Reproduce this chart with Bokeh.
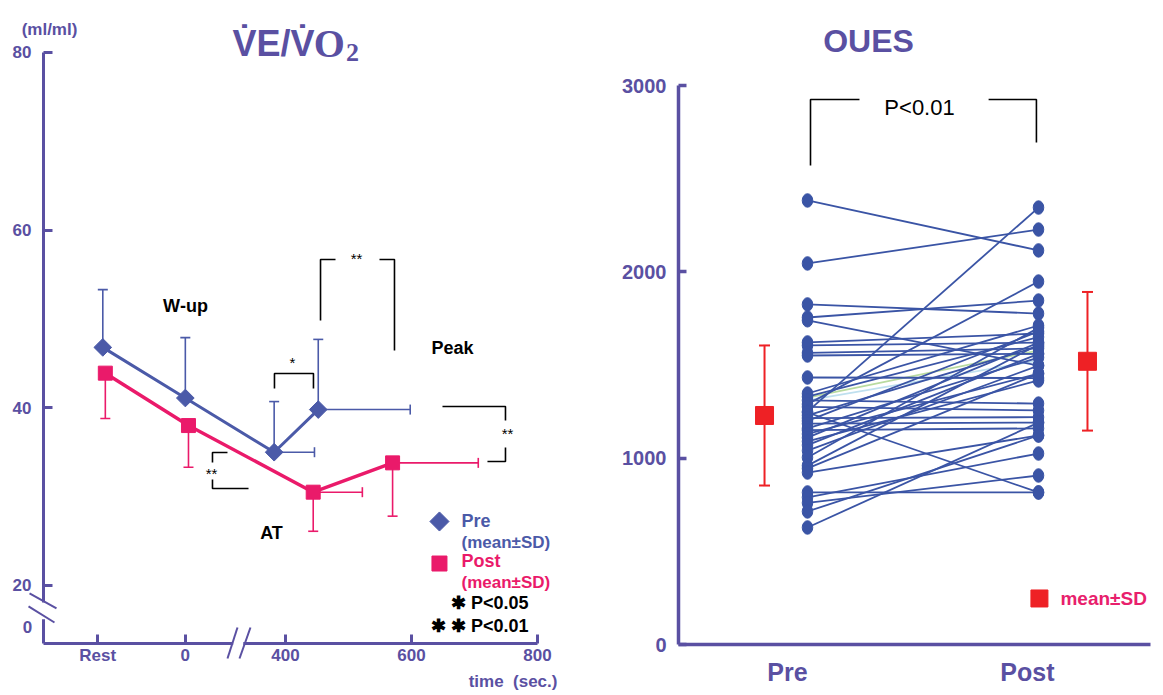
import math
from bokeh.plotting import figure
from bokeh.models import Range1d, FixedTicker, Label
from bokeh.layouts import row
from bokeh.core.properties import value
from bokeh.embed import file_html
from bokeh.resources import INLINE

# ---------------- Left panel data: VE/VO2 ----------------
stage_names = ["Rest", "0", "AT", "Peak"]
pre_time = [110, 241, 382, 452]          # position on time axis (Rest / 0 / AT / Peak)
post_time = [114, 246, 444, 570]
pre_time_sd = [0, 0, 64, 146]
post_time_sd = [0, 0, 78, 136]
pre_mean = [46.8, 41.1, 35.0, 39.8]
pre_sd = [6.5, 6.8, 5.7, 7.9]
post_mean = [43.9, 38.0, 30.5, 33.8]
post_sd = [5.1, 4.7, 4.4, 6.0]
left_x_ticks = [102, 241, 400, 600, 800]
left_x_labels = ["Rest", "0", "400", "600", "800"]
left_y_ticks = [20, 40, 60, 80]

# ---------------- Right panel data: OUES ----------------
oues_pre = [2383, 2045, 1825, 1755, 1740, 1621, 1605, 1565, 1551, 1433, 1347, 1330, 1310,
            1290, 1275, 1250, 1245, 1230, 1215, 1200, 1185, 1160, 1150, 1130, 1110, 1090,
            1070, 1040, 1004, 960, 945, 923, 816, 790, 760, 714, 628]
oues_post = [2115, 2227, 1776, 1846, 1497, 1669, 1620, 1589, 1560, 1430, 1712, 1650, 1293,
             1948, 1256, 2345, 816, 1600, 1220, 1680, 1191, 1540, 1160, 1454, 1620, 1417,
             1560, 1497, 1700, 1610, 1454, 1122, 816, 1025, 907, 1122, 1191]
oues_faint_pre = [1325, 1310]
oues_faint_post = [1578, 1524]
oues_groups = ["Pre", "Post"]
oues_mean = [1229, 1520]
oues_sd = [376, 372]
right_y_ticks = [0, 1000, 2000, 3000]

# ---------------- styles ----------------
PURPLE = "#5a50a2"
PRE_C = "#4b5aa8"
POST_C = "#ea1a6a"
DOT_C = "#3a54a5"
RED = "#ee2125"
FONT = "Liberation Sans"
H = 692


def add_label(p, x, y, text, size, color, bold=True, align="center", baseline="middle", font=FONT):
    p.add_layout(Label(x=x, y=y, text=text, text_font_size=f"{size}px", text_color=color,
                       text_font_style="bold" if bold else "normal", text_align=align,
                       text_baseline=baseline, text_font=font))


def style_axis(ax, width):
    ax.axis_line_color = PURPLE
    ax.axis_line_width = width
    ax.major_tick_line_color = PURPLE
    ax.major_tick_line_width = width
    ax.minor_tick_line_color = None
    ax.major_label_text_color = PURPLE
    ax.major_label_text_font = FONT
    ax.major_label_text_font_style = "bold"


def new_fig(w, xr, yr):
    p = figure(width=w, height=H, x_range=Range1d(*xr), y_range=Range1d(*yr),
               output_backend="svg", toolbar_location=None,
               min_border_left=0, min_border_right=0, min_border_top=0, min_border_bottom=0)
    p.outline_line_color = None
    p.grid.visible = False
    return p


# ================= LEFT FIGURE =================
W1 = 595
xl0, xl1 = -52.4, 892.1
yl0, yl1 = 7.95, 85.85
x_axis_at, y_axis_at = 13.47, 15.87
p1 = new_fig(W1, (xl0, xl1), (yl0, yl1))

xa, ya = p1.xaxis[0], p1.yaxis[0]
for ax in (xa, ya):
    style_axis(ax, 3)
    ax.major_tick_in = 9
    ax.major_tick_out = 0
    ax.major_label_text_font_size = "17px"

xa.fixed_location = x_axis_at
xa.ticker = FixedTicker(ticks=left_x_ticks)
xa.major_label_overrides = {t: l for t, l in zip(left_x_ticks, left_x_labels)}
xa.bounds = (y_axis_at, 800)
xa.major_label_standoff = 3
ya.fixed_location = y_axis_at
ya.ticker = FixedTicker(ticks=left_y_ticks)
ya.bounds = (18.1, 80)
ya.major_label_standoff = 12

# axis breaks
p1.segment([y_axis_at], [x_axis_at], [y_axis_at], [16.2], line_color=PURPLE, line_width=3)
p1.segment([317], [x_axis_at], [333], [x_axis_at], line_color="white", line_width=7, level="overlay")
p1.segment([-6.3, -7.9, 307.9, 327.0], [19.1, 17.64, 11.78, 11.78],
           [36.5, 33.3, 323.8, 344.4], [17.41, 15.83, 15.27, 15.27],
           line_color=PURPLE, line_width=2, level="overlay")

# error bars (pre: upward, post: downward; time SD to the right)
pre_top = [m + s for m, s in zip(pre_mean, pre_sd)]
post_bot = [m - s for m, s in zip(post_mean, post_sd)]
p1.segment(pre_time, pre_mean, pre_time, pre_top, line_color=PRE_C, line_width=1.6)
p1.scatter(pre_time, pre_top, marker="dash", size=10, line_color=PRE_C, line_width=1.6)
p1.segment(post_time, post_mean, post_time, post_bot, line_color=POST_C, line_width=1.6)
p1.scatter(post_time, post_bot, marker="dash", size=10, line_color=POST_C, line_width=1.6)

pre_h = [i for i, s in enumerate(pre_time_sd) if s > 0]
post_h = [i for i, s in enumerate(post_time_sd) if s > 0]
p1.segment([pre_time[i] for i in pre_h], [pre_mean[i] for i in pre_h],
           [pre_time[i] + pre_time_sd[i] for i in pre_h], [pre_mean[i] for i in pre_h],
           line_color=PRE_C, line_width=1.6)
p1.scatter([pre_time[i] + pre_time_sd[i] for i in pre_h], [pre_mean[i] for i in pre_h],
           marker="dash", angle=math.pi / 2, size=10, line_color=PRE_C, line_width=1.6)
p1.segment([post_time[i] for i in post_h], [post_mean[i] for i in post_h],
           [post_time[i] + post_time_sd[i] for i in post_h], [post_mean[i] for i in post_h],
           line_color=POST_C, line_width=1.6)
p1.scatter([post_time[i] + post_time_sd[i] for i in post_h], [post_mean[i] for i in post_h],
           marker="dash", angle=math.pi / 2, size=10, line_color=POST_C, line_width=1.6)

p1.line(pre_time, pre_mean, line_color=PRE_C, line_width=3)
p1.line(post_time, post_mean, line_color=POST_C, line_width=3.5)
p1.scatter(pre_time, pre_mean, marker="square", angle=math.pi / 4, size=12.5,
           fill_color=PRE_C, line_color=PRE_C)
p1.scatter(post_time, post_mean, marker="square", size=14, fill_color=POST_C, line_color=POST_C)

# significance brackets
br_x = [[382.5, 382.5, 444.4, 444.4],
        [455.6, 455.6, 479.4], [549.2, 573.0, 573.0],
        [649.2, 749.2, 749.2], [749.2, 749.2, 720.6],
        [307.9, 284.1, 284.1], [284.1, 284.1, 341.3]]
br_y = [[42.18, 43.86, 43.86, 42.18],
        [49.83, 56.70, 56.70], [56.70, 56.70, 46.45],
        [40.15, 40.15, 38.57], [35.53, 33.96, 33.96],
        [34.97, 34.97, 33.84], [31.93, 30.92, 30.92]]
p1.multi_line(br_x, br_y, line_color="black", line_width=1.6)
for (x, y, t) in [(411.1, 45.1, "*"), (512.7, 56.8, "**"), (752.4, 37.1, "**"), (282.5, 32.6, "**")]:
    add_label(p1, x, y, t, 15, "black", bold=False)

add_label(p1, 241.3, 51.41, "W\u2010up", 18, "black")
add_label(p1, 665.1, 46.68, "Peak", 18, "black")
add_label(p1, 377.8, 25.85, "AT", 18, "black")

# legend
p1.scatter([644.4], [27.2], marker="square", angle=math.pi / 4, size=13.5,
           fill_color=PRE_C, line_color=PRE_C)
p1.scatter([644.4], [22.47], marker="square", size=15, fill_color=POST_C, line_color=POST_C)
add_label(p1, 679.4, 27.2, "Pre", 18, PRE_C, align="left")
add_label(p1, 679.4, 24.84, "(mean\u00b1SD)", 17, PRE_C, align="left")
add_label(p1, 679.4, 22.7, "Post", 18, POST_C, align="left")
add_label(p1, 679.4, 20.34, "(mean\u00b1SD)", 17, POST_C, align="left")
add_label(p1, 785.7, 17.97, "\u2731 P<0.05", 18, "black", align="right")
add_label(p1, 785.7, 15.38, "\u2731 \u2731 P<0.01", 18, "black", align="right")

# axis captions and title
add_label(p1, 831.7, 9.15, "time\u00a0\u00a0(sec.)", 17, PURPLE, align="right")
add_label(p1, 25.4, 82.59, "(ml/ml)", 17, PURPLE)
add_label(p1, -9.5, 15.27, "0", 17, PURPLE)
add_label(p1, 446.0, 81.0, "V\u0307E/V\u0307", 36, PURPLE, align="right", baseline="alphabetic")
add_label(p1, 445.0, 81.0, "O", 40, PURPLE, align="left", baseline="alphabetic",
          font="Liberation Serif")
add_label(p1, 496.0, 80.0, "2", 26, PURPLE, align="left", baseline="alphabetic",
          font="Liberation Serif")

# ================= RIGHT FIGURE =================
W2 = 565
xr0, xr1 = 0.0823, 2.5281
yr0, yr1 = -257.6, 3456.2
p2 = new_fig(W2, (xr0, xr1), (yr0, yr1))

pre_x, post_x = 1.0, 2.0
label_pos = [pre_x - 0.087, post_x - 0.048]
mean_pos = [pre_x - 0.186, post_x + 0.212]
r_axis_x, r_axis_end = 0.4416, 2.4848

xa2, ya2 = p2.xaxis[0], p2.yaxis[0]
style_axis(xa2, 3.5)
style_axis(ya2, 3.5)
ya2.fixed_location = r_axis_x
ya2.ticker = FixedTicker(ticks=right_y_ticks)
ya2.bounds = (0, 3000)
ya2.major_tick_in = 8
ya2.major_tick_out = 0
ya2.major_label_standoff = 12
ya2.major_label_text_font_size = "20px"
xa2.fixed_location = 0
xa2.bounds = (r_axis_x, r_axis_end)
xa2.ticker = FixedTicker(ticks=label_pos)
xa2.major_label_overrides = {t: g for t, g in zip(label_pos, oues_groups)}
xa2.major_tick_line_color = None
xa2.major_tick_in = 0
xa2.major_tick_out = 0
xa2.major_label_standoff = 13
xa2.major_label_text_font_size = "25px"

n = len(oues_pre)
p2.segment([pre_x] * 2, oues_faint_pre, [post_x] * 2, oues_faint_post,
           line_color=["#b9dba0", "#bfe0ef"], line_width=1.8)
p2.segment([pre_x] * n, oues_pre, [post_x] * n, oues_post, line_color=DOT_C, line_width=1.8)
p2.ellipse([pre_x] * n, oues_pre, width=10.5, height=13.5, width_units="screen",
           height_units="screen", fill_color=DOT_C, line_color=DOT_C)
p2.ellipse([post_x] * n, oues_post, width=10.5, height=13.5, width_units="screen",
           height_units="screen", fill_color=DOT_C, line_color=DOT_C)

m_lo = [m - s for m, s in zip(oues_mean, oues_sd)]
m_hi = [m + s for m, s in zip(oues_mean, oues_sd)]
p2.segment(mean_pos, m_lo, mean_pos, m_hi, line_color=RED, line_width=2)
p2.scatter(mean_pos + mean_pos, m_lo + m_hi, marker="dash", size=11, line_color=RED, line_width=2)
p2.scatter(mean_pos, oues_mean, marker="square", size=18, fill_color=RED, line_color=RED)

# bracket
p2.multi_line([[1.013, 1.013, 1.225], [1.784, 1.991, 1.991]],
              [[2571, 2925, 2925], [2925, 2925, 2694]], line_color="black", line_width=1.6)
add_label(p2, 1.485, 2882, "P<0.01", 22, "black", bold=False)

# legend
p2.scatter([2.004], [247], marker="square", size=17, fill_color=RED, line_color=RED)
add_label(p2, 2.095, 247, "mean\u00b1SD", 19, "#e8206c", align="left")

add_label(p2, 1.264, 3241, "OUES", 32, PURPLE)

layout = row(p1, p2)
open("out.html", "w").write(file_html(layout, INLINE, title="VE/VO2 and OUES"))
